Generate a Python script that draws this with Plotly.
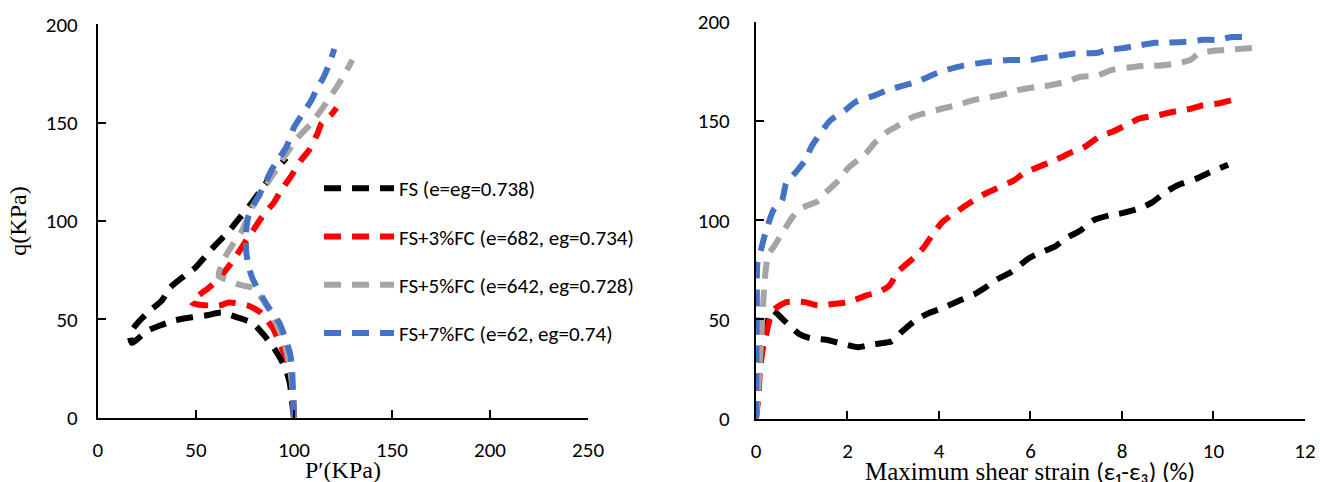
import plotly.graph_objects as go

# ---- Left panel: stress path (p' vs q) ----
fs_p = [100, 99, 97.9, 96, 92.8, 89, 84, 79, 71, 63, 55.5, 48, 39, 31.6, 25, 17.3, 16.3, 21, 26.5, 32.6, 36.7, 44, 49.4, 56, 60.6, 67, 71, 77.5, 84, 90, 96]
fs_q = [0, 8, 17.3, 24, 30.5, 36.6, 42.7, 48, 51, 53.4, 52, 51, 49.4, 46.8, 44, 38, 42.7, 49, 54.4, 59.5, 66, 72, 76, 83.4, 88.5, 95, 100, 108, 117, 125, 132]

fc3_p = [100, 99.5, 98, 96, 91.7, 89.5, 83, 76.5, 67, 61.7, 51, 47.7, 53.5, 56, 62, 66, 70, 75.6, 79, 85, 89.5, 94, 98, 103.5, 107.6, 112, 114, 119.5, 121.7]
fc3_q = [0, 12, 25, 30.5, 40, 45, 53.4, 57, 58.5, 57, 57.5, 58.7, 63.8, 65.6, 71, 76, 81.4, 90, 95, 104, 109, 116.5, 122, 130.8, 136, 144.5, 149.6, 154.7, 157.6]

fc5_p = [100, 99.5, 98, 95, 90, 83.4, 79, 74.5, 70.7, 66, 61.6, 64, 69, 73.4, 78.7, 83, 89.5, 96, 102, 108.7, 115, 121.7, 126, 129.8]
fc5_q = [0, 12, 25, 38, 50, 61, 66, 67, 68, 70, 72, 80, 88.5, 95, 107, 114, 124, 134, 142.5, 149.6, 158, 168, 175, 182]

fc7_p = [100, 99.5, 99, 98, 96, 92.6, 87, 84, 78.7, 76.6, 75.6, 75.5, 76.6, 79.8, 84, 88.4, 91.6, 96, 100, 104.5, 108.8, 112, 115, 118, 120.6]
fc7_q = [0, 12, 25, 32.5, 39, 48, 56, 61, 71, 78, 85, 93.6, 101.8, 109, 116.5, 125.7, 130.8, 137.4, 147.6, 154.7, 161.3, 168, 173, 180, 187.6]

# ---- Right panel: q vs maximum shear strain ----
fs_s = [0, 0.05, 0.1, 0.2, 0.3, 0.37, 0.59, 0.96, 1.18, 1.54, 1.84, 2.23, 2.56, 2.97, 3.18, 3.48, 3.76, 4.06, 4.5, 4.8, 5.03, 5.26, 5.58, 5.95, 6.18, 6.55, 6.78, 7.1, 7.38, 7.74, 7.98, 8.39, 8.66, 8.94, 9.22, 9.63, 9.9, 10.32]
fs_sq = [0, 15, 30, 45, 52, 54.5, 50, 42.4, 40.6, 39.7, 38, 36, 37.4, 39, 43.6, 49.5, 53, 55.5, 60, 63, 66.3, 70, 73.9, 80.6, 83.3, 87, 90.9, 95, 100, 102.5, 103.5, 106, 109, 114, 117.7, 121, 124, 128]

fc3_s = [0, 0.05, 0.09, 0.15, 0.22, 0.3, 0.4, 0.66, 1.07, 1.35, 1.77, 2.04, 2.4, 2.69, 2.92, 3.1, 3.47, 3.65, 3.88, 4.07, 4.43, 4.66, 5.03, 5.26, 5.63, 5.86, 6.27, 6.55, 6.92, 7.15, 7.52, 7.79, 8.16, 8.39, 8.8, 9.1, 9.5, 9.77, 10.14, 10.4, 10.6]
fc3_sq = [0, 10, 25, 35, 42, 50, 55, 58.7, 58.7, 57, 58, 58.7, 62, 63.8, 67.2, 73.9, 81.5, 85.8, 93.4, 99, 105, 108.6, 113.6, 116, 120, 123.7, 127.8, 130.3, 134.5, 136.5, 142.4, 144.6, 148.8, 151.4, 153, 154.6, 156.2, 158, 159, 160.6, 161.6]

fc5_s = [0, 0.05, 0.1, 0.15, 0.2, 0.27, 0.37, 0.57, 0.8, 0.94, 1.35, 1.53, 1.86, 2.0, 2.4, 2.59, 2.87, 3.05, 3.42, 3.7, 4.1, 4.39, 4.75, 5.1, 5.5, 5.72, 6.14, 6.4, 6.8, 7.1, 7.47, 7.78, 8.15, 8.5, 8.85, 9.17, 9.49, 9.68, 10.05, 10.3, 10.9]
fc5_sq = [0, 15, 35, 55, 72, 83, 86, 93.4, 101.7, 105.6, 109.6, 114, 121.4, 126, 133.6, 138.9, 144.6, 147, 152, 154, 156.5, 158, 160.6, 162, 164, 165.6, 167.3, 168, 170, 172.4, 173, 175.8, 177, 178, 178, 179, 180.8, 184, 185.6, 186, 187]

fc7_s = [0, 0.01, 0.02, 0.03, 0.12, 0.2, 0.38, 0.57, 0.66, 0.85, 1.07, 1.21, 1.49, 1.63, 1.95, 2.18, 2.6, 2.87, 3.24, 3.51, 3.93, 4.16, 4.53, 4.95, 5.53, 6.0, 6.23, 6.65, 6.92, 7.47, 7.65, 8.02, 8.32, 8.73, 9.03, 9.4, 9.77, 10.1, 10.4, 10.8]
fc7_sq = [0, 30, 60, 78, 86, 93, 105, 110, 118.7, 123.7, 130, 137, 146.5, 150.5, 155.5, 159.7, 163, 165.6, 168, 169.8, 174, 175.8, 178, 179.5, 180.8, 180.8, 181.8, 183, 184, 184.5, 185.8, 186.8, 188, 189.5, 189.6, 190, 191, 191, 192.4, 192.4]

names = ["FS (e=eg=0.738)", "FS+3%FC (e=682, eg=0.734)", "FS+5%FC (e=642, eg=0.728)", "FS+7%FC (e=62, eg=0.74)"]
colors = ["#000000", "#FF0000", "#A5A5A5", "#4472C4"]

left = [(fs_p, fs_q), (fc3_p, fc3_q), (fc5_p, fc5_q), (fc7_p, fc7_q)]
right = [(fs_s, fs_sq), (fc3_s, fc3_sq), (fc5_s, fc5_sq), (fc7_s, fc7_sq)]

fig = go.Figure()
line_style = dict(width=6, dash="17px,11px", shape="spline", smoothing=0.6)

for i, (x, y) in enumerate(left):
    fig.add_trace(go.Scatter(x=x, y=y, mode="lines", name=names[i],
                             line=dict(color=colors[i], **line_style),
                             legendgroup=f"g{i}", xaxis="x", yaxis="y"))
for i, (x, y) in enumerate(right):
    fig.add_trace(go.Scatter(x=x, y=y, mode="lines", name=names[i],
                             line=dict(color=colors[i], **line_style),
                             legendgroup=f"g{i}", showlegend=False,
                             xaxis="x2", yaxis="y2"))

SANS = "Carlito, Calibri, Open Sans, DejaVu Sans, sans-serif"
SERIF = "Liberation Serif, Times New Roman, serif"
tick_font = dict(family=SANS, size=21, color="#000")
ax_common = dict(showgrid=False, zeroline=False, showline=True, linecolor="#000",
                 linewidth=2, ticks="inside", ticklen=8, tickwidth=2, tickcolor="#000",
                 tickfont=tick_font, fixedrange=True, automargin=False)

right_title = ("Maximum shear strain "
               f"<span style=\"font-family:{SANS}\">(ε₁-ε₃) (%)</span>")

W, H = 1320, 482
LX = [0.0742, 0.4455]
RX = [0.5727, 0.9886]

fig.update_layout(
    width=W, height=H,
    margin=dict(l=0, r=0, t=0, b=0, autoexpand=False),
    paper_bgcolor="white", plot_bgcolor="white",
    showlegend=True,
    legend=dict(x=0.2417, y=0.6515, xanchor="left", yanchor="top",
                font=dict(family=SANS, size=21, color="#000"),
                itemwidth=70,
                bgcolor="rgba(0,0,0,0)", tracegroupgap=18, traceorder="grouped"),
    xaxis=dict(domain=LX, range=[0, 250], dtick=50,
               anchor="y", ticklabelstandoff=12, **ax_common),
    yaxis=dict(domain=[0.1338, 0.9492], range=[0, 200], dtick=50,
               anchor="x", ticklabelstandoff=14,
               title=dict(text="q(KPa)", font=dict(family=SERIF, size=24, color="#000"), standoff=12), **ax_common),
    xaxis2=dict(domain=RX, range=[0, 12], dtick=2,
                anchor="y2", ticklabelstandoff=12, **ax_common),
    yaxis2=dict(domain=[0.1317, 0.9544], range=[0, 200], dtick=50,
                anchor="x2", ticklabelstandoff=20, **ax_common),
    annotations=[
        dict(text="P′(KPa)", xref="paper", yref="paper",
             x=(LX[0] + LX[1]) / 2, y=0.024, xanchor="center", yanchor="middle",
             showarrow=False, font=dict(family=SERIF, size=24, color="#000")),
        dict(text=right_title, xref="paper", yref="paper",
             x=(RX[0] + RX[1]) / 2, y=0.022, xanchor="center", yanchor="middle",
             showarrow=False, font=dict(family=SERIF, size=25, color="#000")),
    ],
)

# remove the default 8px page margin so the figure fills the window exactly
fig.write_html("out.html", config={"displayModeBar": False},
               post_script="document.body.style.margin='0';")
